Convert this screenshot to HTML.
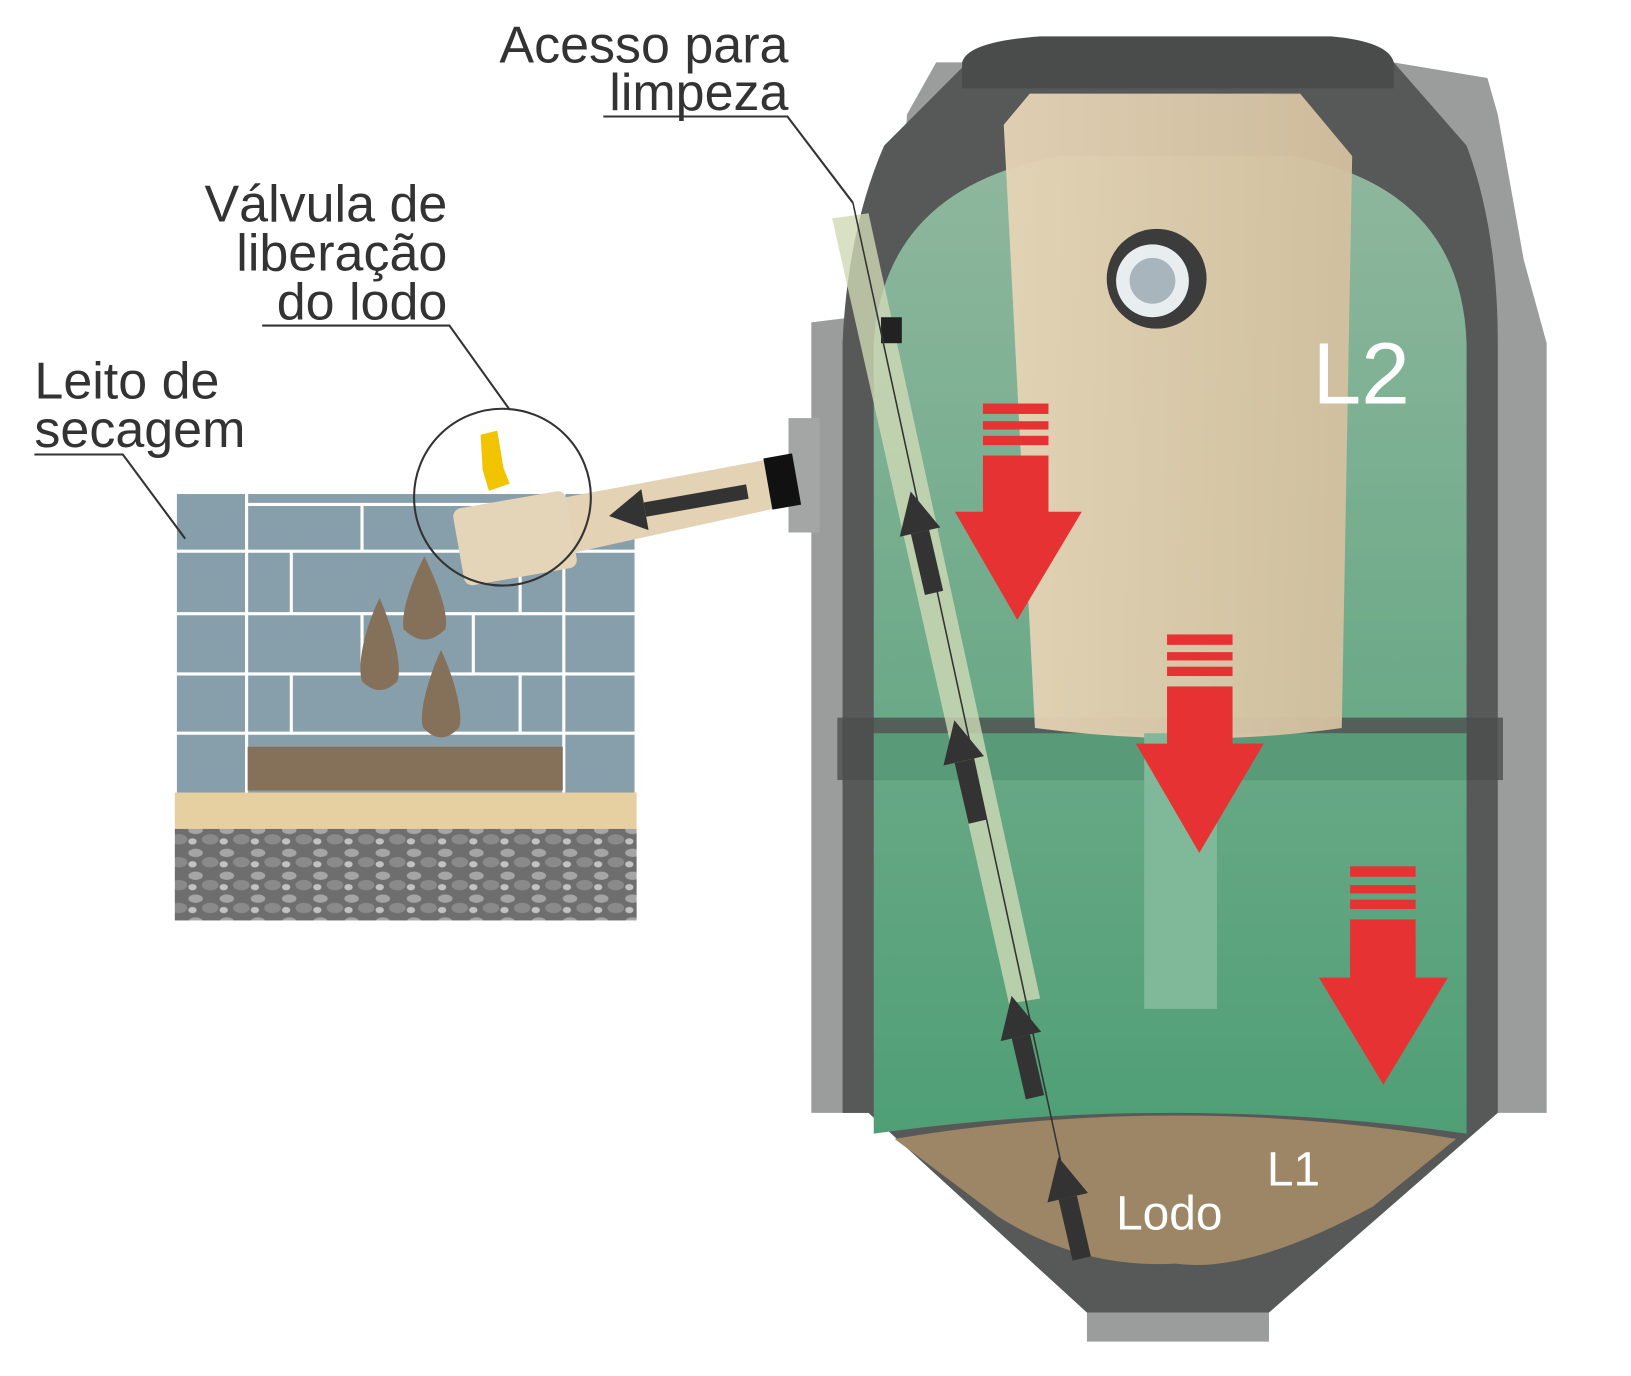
<!DOCTYPE html>
<html><head><meta charset="utf-8"><style>
html,body{margin:0;padding:0;background:#fff;width:1631px;height:1376px;overflow:hidden}
svg{display:block}
text{font-family:"Liberation Sans",sans-serif}
</style></head><body>
<svg width="1631" height="1376" viewBox="0 0 1568 1323" xmlns="http://www.w3.org/2000/svg">
<defs>
<linearGradient id="grn" x1="0" y1="0" x2="0" y2="1"><stop offset="0" stop-color="#8fb79e"/><stop offset="1" stop-color="#4f9f76"/></linearGradient>
<linearGradient id="beige" x1="0" y1="0" x2="1" y2="0"><stop offset="0" stop-color="#e6d4b6"/><stop offset="1" stop-color="#d3c09f"/></linearGradient>
<pattern id="grav" width="30" height="22" patternUnits="userSpaceOnUse"><rect width="30" height="22" fill="#6e6e6e"/><ellipse cx="8" cy="6" rx="7" ry="4" fill="#a5a5a5"/><ellipse cx="22" cy="15" rx="8" ry="5" fill="#8a8a8a"/><ellipse cx="5" cy="17" rx="4" ry="3" fill="#c2c2c2"/></pattern>
</defs>
<!-- tank outer -->
<path d="M900,60 L1340,60 L1430,75 L1440,110 L1465,250 L1487,330 L1487,1070 L1430,1070 L1220,1262 L1220,1290 L1045,1290 L1045,1262 L835,1070 L780,1070 L780,310 L860,300 L872,110 Z" fill="#9a9d9c"/>
<path d="M930,60 L1340,60 L1410,140 Q1440,220 1440,330 L1440,1070 L1220,1262 L1045,1262 L835,1070 L810,1070 L810,330 Q815,220 850,140 Z" fill="#575858"/>
<path d="M925,60 Q930,40 1000,35 L1280,35 Q1335,40 1340,60 L1340,85 L925,85 Z" fill="#4a4b4b"/>
<!-- green interior -->
<path d="M840,330 Q850,180 1020,150 L1240,150 Q1405,180 1410,330 L1410,1090 Q1130,1050 840,1090 Z" fill="url(#grn)"/>
<rect x="805" y="690" width="640" height="60" fill="#4c4d4d" opacity="0.8"/>
<rect x="840" y="705" width="570" height="45" fill="#5aa27c" opacity="0.9"/>
<!-- sludge -->
<path d="M860,1095 Q1130,1050 1400,1095 L1320,1160 Q1200,1225 1130,1215 Q1040,1220 960,1170 Z" fill="#9c8665"/>
<!-- beige cylinder -->
<path d="M965,120 L990,90 L1250,90 L1300,150 L1290,700 Q1150,720 995,700 Z" fill="url(#beige)" opacity="0.95"/>
<rect x="1100" y="705" width="70" height="265" fill="#7fb99a"/>
<circle cx="1112" cy="268" r="48" fill="#3c3c3c"/><circle cx="1108" cy="270" r="35" fill="#e8eef0"/><circle cx="1108" cy="270" r="22" fill="#a9b5bc"/>
<!-- left pipe -->
<polygon points="800,210 835,205 1000,960 970,965" fill="#cfd9b6" opacity="0.8"/>
<rect x="847" y="305" width="20" height="25" fill="#222"/>
<line x1="820" y1="195" x2="1040" y2="1210" stroke="#333" stroke-width="1.5"/>
<!-- red arrows -->
<g fill="#e63232">
<rect x="945" y="388" width="63" height="10"/><rect x="945" y="405" width="63" height="8"/><rect x="945" y="419" width="63" height="9"/><rect x="945" y="438" width="63" height="56"/><polygon points="918,492 1040,492 978,596"/>
<rect x="1122" y="610" width="63" height="10"/><rect x="1122" y="627" width="63" height="8"/><rect x="1122" y="641" width="63" height="9"/><rect x="1122" y="660" width="63" height="57"/><polygon points="1092,715 1215,715 1153,820"/>
<rect x="1298" y="833" width="63" height="10"/><rect x="1298" y="851" width="63" height="8"/><rect x="1298" y="865" width="63" height="9"/><rect x="1298" y="884" width="63" height="58"/><polygon points="1268,940 1392,940 1330,1043"/>
</g>
<!-- black arrows along line -->
<g fill="#333">
<g transform="translate(898,570) rotate(-13)"><rect x="-9" y="-60" width="18" height="60"/><polygon points="-20,-60 20,-60 0,-100"/></g>
<g transform="translate(940,790) rotate(-13)"><rect x="-9" y="-60" width="18" height="60"/><polygon points="-20,-60 20,-60 0,-100"/></g>
<g transform="translate(995,1055) rotate(-13)"><rect x="-9" y="-60" width="18" height="60"/><polygon points="-20,-60 20,-60 0,-100"/></g>
<g transform="translate(1040,1210) rotate(-13)"><rect x="-9" y="-60" width="18" height="60"/><polygon points="-20,-60 20,-60 0,-100"/></g>
</g>
<text x="1262" y="388" font-size="84" fill="#fff">L2</text>
<text x="1218" y="1140" font-size="46" fill="#fff">L1</text>
<text x="1073" y="1182" font-size="46" fill="#fff">Lodo</text>
<!-- connector to tank -->
<rect x="758" y="402" width="30" height="110" fill="#a3a6a5"/>
<!-- drying bed -->
<rect x="170" y="475" width="440" height="288" fill="#879fab"/>
<g stroke="#fff" stroke-width="3">
<line x1="237" y1="475" x2="237" y2="763"/><line x1="542" y1="475" x2="542" y2="763"/>
<line x1="170" y1="530" x2="610" y2="530"/><line x1="170" y1="590" x2="610" y2="590"/><line x1="170" y1="648" x2="610" y2="648"/><line x1="170" y1="705" x2="610" y2="705"/>
<line x1="348" y1="485" x2="348" y2="530"/><line x1="455" y1="485" x2="455" y2="530"/><line x1="280" y1="530" x2="280" y2="590"/><line x1="500" y1="530" x2="500" y2="590"/><line x1="348" y1="590" x2="348" y2="648"/><line x1="455" y1="590" x2="455" y2="648"/><line x1="280" y1="648" x2="280" y2="705"/><line x1="500" y1="648" x2="500" y2="705"/>
<line x1="237" y1="485" x2="542" y2="485"/>
</g>
<rect x="238" y="718" width="303" height="42" fill="#85705a"/>
<rect x="168" y="762" width="444" height="35" fill="#e6cfa0"/>
<rect x="168" y="797" width="444" height="88" fill="url(#grav)"/>
<g fill="#85705a">
<path d="M408,535 C395,560 385,590 388,605 Q408,625 428,605 C432,590 420,560 408,535Z"/>
<path d="M365,575 C350,605 343,640 348,655 Q365,672 382,655 C387,640 378,605 365,575Z"/>
<path d="M424,625 C410,655 402,690 407,700 Q424,718 441,700 C446,690 438,655 424,625Z"/>
</g>
<!-- pipe + valve -->
<polygon points="480,490 748,440 758,486 490,545" fill="#e3d2b3"/>
<rect x="738" y="438" width="28" height="50" fill="#111" transform="rotate(-10 752 463)"/>
<g transform="translate(620,490) rotate(-10)"><rect x="0" y="-7" width="100" height="14" fill="#333"/><polygon points="0,-20 0,20 -35,0" fill="#333"/></g>
<rect x="440" y="480" width="110" height="75" rx="8" fill="#e5d5b8" transform="rotate(-10 495 517)"/>
<path d="M462,418 L478,414 L484,450 L490,465 L470,472 L464,452 Z" fill="#f2c400"/>
<circle cx="483" cy="478" r="85" fill="none" stroke="#333" stroke-width="2"/>
<!-- leader lines -->
<g stroke="#333" stroke-width="2" fill="none">
<polyline points="580,112 757,112 820,195"/>
<polyline points="252,313 432,313 490,394"/>
<polyline points="33,437 118,437 178,518"/>
</g>
<g fill="#333" font-size="50" text-anchor="end">
<text x="758" y="60">Acesso para</text><text x="758" y="106">limpeza</text>
<text x="430" y="213">Válvula de</text><text x="430" y="260">liberação</text><text x="430" y="307">do lodo</text>
</g>
<text x="33" y="383" font-size="50" fill="#333">Leito de</text>
<text x="33" y="430" font-size="50" fill="#333">secagem</text>
</svg>
</body></html>
